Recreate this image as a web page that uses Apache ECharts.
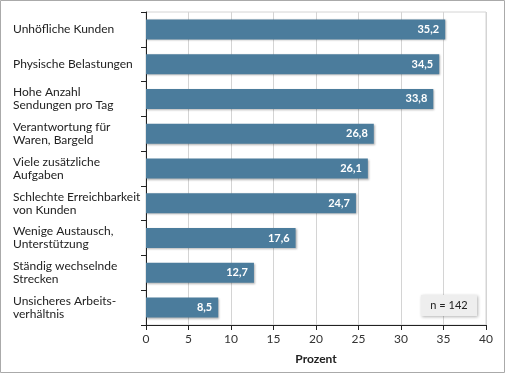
<!DOCTYPE html>
<html>
<head>
<meta charset="utf-8">
<script src="https://cdn.jsdelivr.net/npm/echarts@6/dist/echarts.min.js"></script>
<style>
  html, body { margin: 0; padding: 0; background: #fff; }
  #chart { width: 506px; height: 375px; }
</style>
</head>
<body>
<div id="chart"></div>
<script>
// Kategorien von oben nach unten
var categories = [
  'Unhöfliche Kunden',
  'Physische Belastungen',
  'Hohe Anzahl\nSendungen pro Tag',
  'Verantwortung für\nWaren, Bargeld',
  'Viele zusätzliche\nAufgaben',
  'Schlechte Erreichbarkeit\nvon Kunden',
  'Wenige Austausch,\nUnterstützung',
  'Ständig wechselnde\nStrecken',
  'Unsicheres Arbeits-\nverhältnis'
]
var values = [35.2, 34.5, 33.8, 26.8, 26.1, 24.7, 17.6, 12.7, 8.5]
var sampleNote = 'n = 142'

var fontFamily = 'Lato, "Open Sans", sans-serif'
var chart = echarts.init(document.getElementById('chart'))

chart.setOption({
  animation: false,
  textStyle: { fontFamily: fontFamily },
  grid: {
    left: 146,
    right: 20,
    top: 12,
    bottom: 50,
    show: true,
    borderColor: '#d4d4d4',
    borderWidth: 1
  },
  xAxis: {
    type: 'value',
    min: 0,
    max: 40,
    interval: 5,
    name: 'Prozent',
    nameLocation: 'middle',
    nameGap: 28,
    nameTextStyle: { color: '#222', fontSize: 12, fontWeight: 'bold', fontFamily: fontFamily },
    axisLine: { show: true, lineStyle: { color: '#222', width: 1 } },
    axisTick: { show: true, length: 5, lineStyle: { color: '#222' } },
    axisLabel: { color: '#333', fontSize: 12, margin: 8 },
    splitLine: { show: true, lineStyle: { color: '#d4d4d4', width: 1 } }
  },
  yAxis: {
    type: 'category',
    data: categories,
    inverse: true,
    axisLine: { show: true, lineStyle: { color: '#222', width: 1 } },
    axisTick: { show: true, length: 5, lineStyle: { color: '#222' } },
    axisLabel: {
      color: '#222',
      fontSize: 12,
      lineHeight: 13,
      align: 'left',
      margin: 133
    }
  },
  series: [{
    type: 'bar',
    data: values,
    barWidth: 20,
    itemStyle: {
      color: '#4b7c9c',
      shadowColor: 'rgba(0,0,0,0.3)',
      shadowBlur: 2,
      shadowOffsetX: 1,
      shadowOffsetY: 1
    },
    label: {
      show: true,
      position: 'insideRight',
      distance: 6,
      color: '#fff',
      fontSize: 11,
      fontWeight: 'bold',
      formatter: function (p) { return p.value.toFixed(1).replace('.', ',') }
    }
  }],
  graphic: [
    {
      type: 'rect',
      shape: { x: 0.5, y: 0.5, width: 504, height: 372 },
      style: { fill: 'none', stroke: '#aaa', lineWidth: 1 },
      silent: true
    },
    {
      type: 'rect',
      shape: { x: 421, y: 295, width: 56, height: 21 },
      style: {
        fill: '#eeeeee',
        shadowColor: 'rgba(0,0,0,0.3)',
        shadowBlur: 3,
        shadowOffsetX: 1,
        shadowOffsetY: 1
      },
      z: 10
    },
    {
      type: 'text',
      x: 449,
      y: 305.5,
      style: {
        text: sampleNote,
        fill: '#222',
        fontSize: 11,
        fontFamily: fontFamily,
        align: 'center',
        verticalAlign: 'middle'
      },
      z: 11
    }
  ]
})
</script>
</body>
</html>
